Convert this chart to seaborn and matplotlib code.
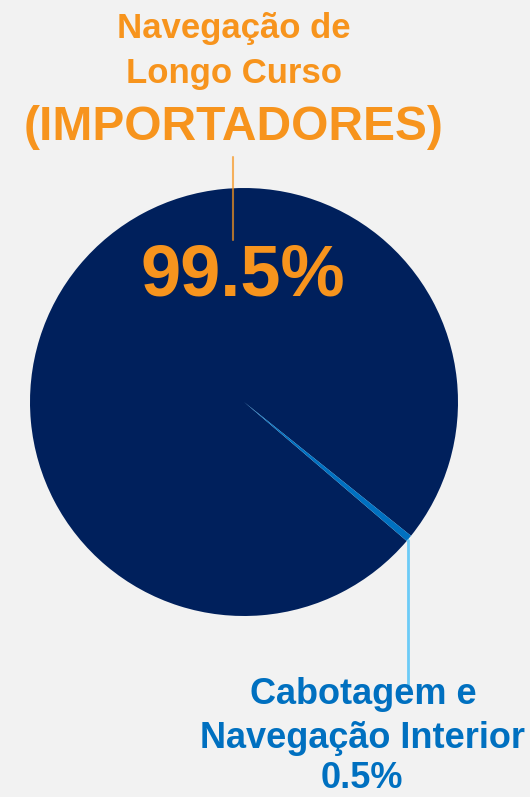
import matplotlib
matplotlib.use("Agg")
import matplotlib.pyplot as plt
import seaborn as sns

# data
labels = ["Navegação de\nLongo Curso", "Cabotagem e\nNavegação Interior"]
shares = [99.5, 0.5]
pct_labels = ["99.5%", "0.5%"]
colors = ["#00205C", "#0070C0"]

BG = "#F2F2F2"
ORANGE = "#F7941D"
BLUE_TXT = "#0070C0"

sns.set_theme(style="white")
plt.rcParams['font.family'] = ['Liberation Sans', 'DejaVu Sans']

fig = plt.figure(figsize=(5.30, 7.97), dpi=100, facecolor=BG)
ax = fig.add_axes([0, 0, 1, 1])
ax.set_facecolor(BG)

# pie in pixel-like units (y up)
cx, cy, r = 244, 797 - 402, 214
ax.pie(shares, colors=colors, startangle=-38.7, counterclock=True,
       center=(cx, cy), radius=r, frame=True,
       wedgeprops=dict(linewidth=0))
ax.set_xlim(0, 530)
ax.set_ylim(0, 797)
ax.set_aspect("equal")
ax.axis("off")

# top label
ax.text(234, 797 - 28, "Navegação de", ha="center", va="center",
        fontsize=25, fontweight="bold", color=ORANGE)
ax.text(234, 797 - 73, "Longo Curso", ha="center", va="center",
        fontsize=25, fontweight="bold", color=ORANGE)
ax.text(234, 797 - 127, "(IMPORTADORES)", ha="center", va="center",
        fontsize=34.5, fontweight="bold", color=ORANGE)
ax.plot([233, 233], [797 - 157, 797 - 240], color=ORANGE, alpha=0.7, lw=1.5)
ax.text(243, 797 - 276, pct_labels[0], ha="center", va="center",
        fontsize=52, fontweight="bold", color=ORANGE)

# bottom label
ax.plot([408, 408], [797 - 540, 797 - 688], color="#6CCBF7", lw=2)
ax.text(363, 797 - 694, "Cabotagem e", ha="center", va="center",
        fontsize=26, fontweight="bold", color=BLUE_TXT)
ax.text(362, 797 - 738, "Navegação Interior", ha="center", va="center",
        fontsize=26, fontweight="bold", color=BLUE_TXT)
ax.text(362, 797 - 779, pct_labels[1], ha="center", va="center",
        fontsize=26, fontweight="bold", color=BLUE_TXT)

fig.savefig("out.png", dpi=100, facecolor=BG)
